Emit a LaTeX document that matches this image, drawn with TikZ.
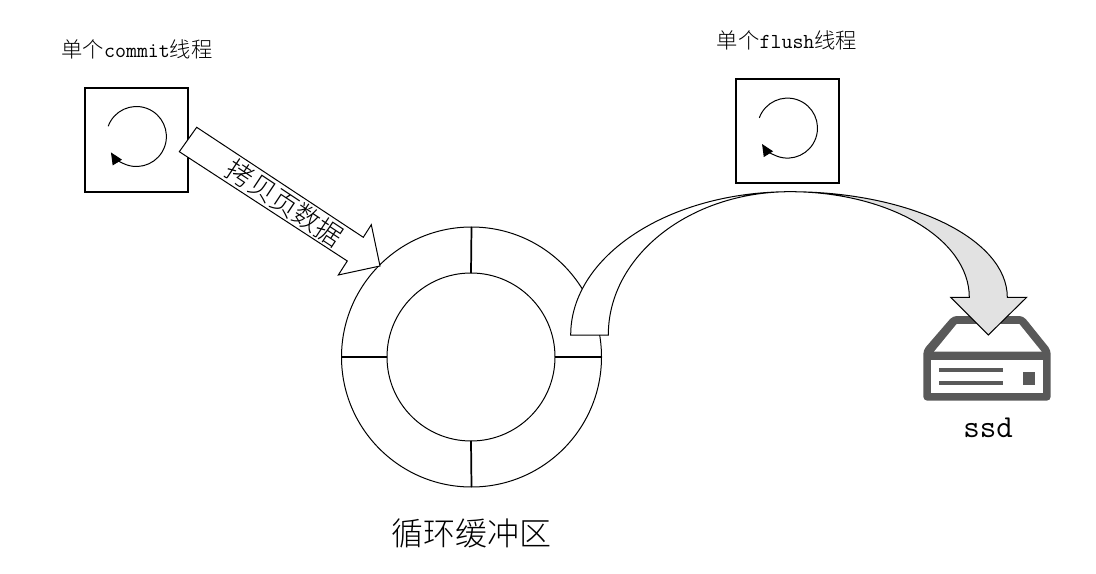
\documentclass[tikz,border=0pt]{standalone}
\usepackage{fontspec}
\newfontfamily\cjk[UprightFont=* Light]{Noto Sans CJK SC}
\usetikzlibrary{arrows.meta}
\tikzstyle{threadbox} = [rectangle, minimum width=76.8pt, minimum height=78pt, inner sep=0, outer sep=0, draw=black, line width=1.5pt]
\tikzstyle{ring} = [shape=circle, inner sep=0, outer sep=0, draw, line width=.75pt]
\tikzstyle{blockarrow} = [draw=black, line width=.75pt, line join=miter, fill=white]
\tikzstyle{looparrow} = [line width=.75pt, -{Triangle[length=9pt,width=8pt]}]
\definecolor{ssdgray}{HTML}{595959}
\definecolor{arrowgray}{HTML}{E2E2E2}

\begin{document}
\begin{tikzpicture}[x=.75pt,y=-.75pt]
\useasboundingbox (0,0) rectangle (1096,574);

%threads
\foreach \name/\x/\y in {commit/136.4/139.7,flush/787.5/131.3}{
	\node[threadbox] (\name box) at (\x,\y) {};
	\coordinate (\name loop) at (\x,\y-3.2);
	\draw[looparrow] (\name loop) ++(160:22.5pt) arc[start angle=160,end angle=-148,radius=22.5pt];
}
\node (commit label) at (137,49) {\fontsize{16pt}{16pt}\selectfont\cjk 单个{\ttfamily commit}线程};
\node (flush label) at (787,40) {\fontsize{16pt}{16pt}\selectfont\cjk 单个{\ttfamily flush}线程};

%buffer
\node[ring,minimum size=195pt] (outer) at (471.5,357) {};
\node[ring,minimum size=126pt] (inner) at (471,357) {};
\foreach \side in {north,south,east,west}{
	\draw[line width=1.3pt] (inner.\side)--(outer.\side);
}
\node (buffer label) at (471.5,533) {\fontsize{24pt}{24pt}\selectfont\cjk 循环缓冲区};

%ssd
\fill[ssdgray,rounded corners=3pt] (923.3,400.7)--(1050.7,400.7)--(1050.7,350)--(1023.3,316)--(952.7,316)--(923.3,350)--cycle;
\fill[white] (956.7,324)--(1019.3,324)--(1041.7,351.7)--(934,351.7)--cycle;
\fill[white] (931,360) rectangle (1043.3,393.3);
\fill[ssdgray] (939,368) rectangle (1003,372);
\fill[ssdgray] (939,381) rectangle (1003,385);
\fill[ssdgray] (1023.3,372) rectangle (1035,385);
\node (ssd label) at (988,428) {\fontsize{24pt}{24pt}\selectfont\ttfamily ssd};

%copy arrow
\draw[blockarrow] (196.7,127.3)--(363.3,237.3)--(371.3,224.7)--(380,266)--(338.3,275)--(347.3,261)--(179.3,151.7)--cycle;
\node[rotate=-33.5] (copy label) at (285,203) {\fontsize{20pt}{20pt}\selectfont\cjk 拷贝页数据};

%flush arrow
\draw[blockarrow] (570.7,335) .. controls (570.7,255.8) and (668.9,191.7) .. (790,191.7)
	.. controls (689.7,191.7) and (608.3,255.8) .. (608.3,335)--cycle;
\draw[blockarrow,fill=arrowgray] (790,191.7) .. controls (910,191.7) and (1007.3,239) .. (1007.3,297.3)
	--(1026.7,297.3)--(988.3,335)--(950.7,297.3)--(969.3,297.3)
	.. controls (969.3,239) and (889,191.7) .. (790,191.7)--cycle;
\end{tikzpicture}
\end{document}
